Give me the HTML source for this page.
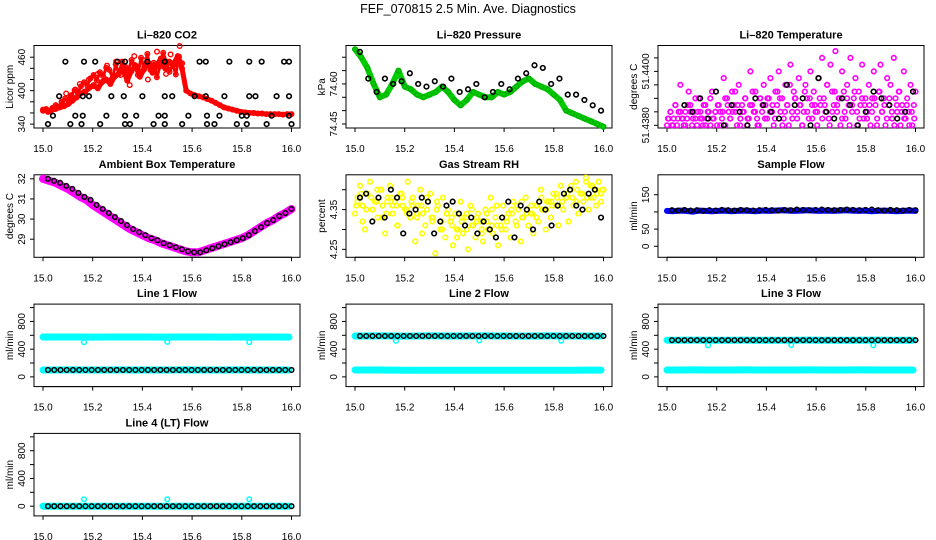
<!DOCTYPE html>
<html><head><meta charset="utf-8">
<style>
html,body{margin:0;padding:0;background:#fff;}
svg{display:block;font-family:"Liberation Sans",Arial,sans-serif;}
</style></head>
<body>
<svg id="chart" width="936" height="540" viewBox="0 0 936 540" xmlns="http://www.w3.org/2000/svg">
<rect width="936" height="540" fill="#fff"/>
<text x="468" y="13" text-anchor="middle" font-size="12.5">FEF_070815  2.5 Min. Ave. Diagnostics</text>
</svg>
<script>
// ---------------- data ----------------
const xTicks = [15.0, 15.2, 15.4, 15.6, 15.8, 16.0];
const xTickLabels = ["15.0", "15.2", "15.4", "15.6", "15.8", "16.0"];

// CO2
const co2Red = [366,364,365,367,370,372,376,382,388,395,398,405,410,404,415,420,412,425,430,440,418,435,445,425,438,450,432,445,458,440,452,448,462,440,400,395,392,390,388,385,382,378,374,370,368,366,364,362,361,360,360,359,359,358,358,358,358,357,358,358];
const co2Red2 = [362,368,372,380,395,390,402,412,398,420,408,430,416,445,420,452,428,438,410,462,435,455,420,440,470,445,430,465,448,480];
const co2Red3 = [364,367,363,369,374,371,379,386,383,392,401,396,408,415,409,422,428,418,433,426,441,437,423,447,431,452,443,436,455,446,428,459,441,466,437,450,424,444,468,452,434,447,429,461,449];
const co2RefX = [15.09,15.165,15.21,15.30,15.33,15.42,15.49,15.63,15.655,15.75,15.83,15.88,15.97,15.99,
  15.065,15.16,15.185,15.275,15.325,15.40,15.49,15.52,15.61,15.655,15.73,15.83,15.855,15.94,15.99,
  15.04,15.13,15.16,15.255,15.33,15.375,15.465,15.49,15.585,15.66,15.71,15.80,15.82,15.92,15.99,
  15.02,15.11,15.155,15.23,15.33,15.35,15.445,15.49,15.56,15.66,15.69,15.78,15.82,15.90,16.0];
const co2RefY = [452,452,452,452,452,452,452,452,452,452,452,452,452,452,
  390,390,390,390,390,390,390,390,390,390,390,390,390,390,390,
  355,355,355,355,355,355,355,355,355,355,355,355,355,355,355,
  340,340,340,340,340,340,340,340,340,340,340,340,340,340,340];

// Pressure
const presGreen = [74.73,74.70,74.66,74.60,74.55,74.56,74.60,74.65,74.59,74.58,74.56,74.55,74.56,74.57,74.59,74.57,74.54,74.52,74.54,74.57,74.56,74.55,74.55,74.57,74.56,74.57,74.59,74.61,74.62,74.60,74.59,74.58,74.56,74.54,74.50,74.49,74.48,74.47,74.46,74.45,74.44];
const presRef = [74.72,74.62,74.57,74.62,74.60,74.61,74.64,74.60,74.59,74.61,74.59,74.62,74.57,74.58,74.60,74.55,74.57,74.60,74.58,74.62,74.64,74.67,74.66,74.60,74.62,74.56,74.56,74.54,74.52,74.50];

// Li-820 temperature
const tempMag = [
51.43800,51.43825,51.43850,51.43800,51.43825,51.43875,51.43800,51.43850,51.43950,51.43825,51.43800,51.43850,51.43825,51.43925,51.43875,51.43800,51.43850,51.43825,51.43800,51.43900,51.43850,51.43825,51.43875,51.43800,51.43825,51.43850,51.43800,51.43925,51.43825,51.43850,
51.43800,51.43875,51.43850,51.43825,51.43975,51.43800,51.43900,51.43850,51.43825,51.43925,51.43875,51.43850,51.43800,51.43950,51.43825,51.43875,51.43850,51.43900,51.43800,51.43825,51.44000,51.43875,51.43850,51.43925,51.43825,51.43800,51.43900,51.43850,51.43950,51.43875,
51.43825,51.43900,51.43975,51.43850,51.43800,51.43925,51.43875,51.44000,51.43850,51.43900,51.43825,51.43950,51.43875,51.43800,51.44025,51.43850,51.43925,51.43900,51.43825,51.43975,51.43875,51.43800,51.43850,51.43950,51.43900,51.43825,51.44000,51.43875,51.43925,51.43850,
51.43800,51.43975,51.43875,51.44050,51.43900,51.43850,51.43950,51.43825,51.44025,51.43925,51.43875,51.44075,51.43850,51.43900,51.43800,51.44000,51.43925,51.43825,51.43950,51.43875,51.44050,51.43850,51.43900,51.43975,51.43800,51.43925,51.43875,51.44025,51.43825,51.43900,
51.43850,51.43950,51.43800,51.43900,51.44000,51.43875,51.43825,51.43925,51.44025,51.43850,51.43900,51.43800,51.43975,51.43875,51.43950,51.43825,51.44050,51.43900,51.43850,51.43925,51.43800,51.43875,51.44000,51.43825,51.43900,51.43850,51.43950,51.43800,51.43875,51.43925];
const tempMag2 = [
51.43825,51.43850,51.43800,51.43875,51.43825,51.43850,51.43825,51.43800,51.43875,51.43850,51.43825,51.43900,51.43850,51.43825,51.43800,51.43875,51.43850,51.43900,51.43825,51.43850,
51.43875,51.43800,51.43850,51.43900,51.43875,51.43825,51.43850,51.43925,51.43875,51.43800,51.43850,51.43900,51.43825,51.43875,51.43925,51.43850,51.43800,51.43900,51.43875,51.43825,
51.43900,51.43850,51.43875,51.43825,51.43925,51.43900,51.43800,51.43850,51.43875,51.43950,51.43825,51.43900,51.43850,51.43875,51.43800,51.43925,51.43850,51.43900,51.43825,51.43875,
51.43850,51.43900,51.43825,51.43875,51.43950,51.43800,51.43850,51.43925,51.43875,51.43900,51.43825,51.43850,51.43900,51.43800,51.43875,51.43925,51.43850,51.43825,51.43900,51.43875,
51.43825,51.43875,51.43850,51.43900,51.43800,51.43925,51.43850,51.43875,51.43825,51.43900,51.43850,51.43800,51.43875,51.43925,51.43850,51.43825,51.43875,51.43800,51.43850,51.43825];
const tempRef = [51.43875,51.43850,51.43900,51.43825,51.43925,51.43800,51.43875,51.43850,51.43800,51.43900,51.43875,51.43850,51.43825,51.43950,51.43875,51.43900,51.43800,51.43975,51.43850,51.43825,51.43900,51.43875,51.43800,51.43850,51.43925,51.43900,51.43875,51.43825,51.43850,51.43925];

// Ambient box temperature
const ambMag = [32.0,31.9,31.8,31.65,31.5,31.3,31.1,30.95,30.7,30.5,30.3,30.1,29.9,29.7,29.5,29.35,29.2,29.05,28.95,28.8,28.7,28.6,28.5,28.4,28.35,28.35,28.45,28.55,28.65,28.75,28.85,28.95,29.05,29.2,29.4,29.6,29.8,29.95,30.15,30.3,30.5];

// Gas stream RH
const rhYellow = [4.34,4.38,4.41,4.36,4.30,4.39,4.42,4.35,4.37,4.33,4.40,4.36,4.29,4.38,4.41,4.34,4.37,4.31,4.39,4.36,
4.35,4.42,4.33,4.38,4.27,4.36,4.40,4.34,4.31,4.37,4.39,4.33,4.24,4.36,4.30,4.38,4.28,4.35,4.32,4.26,
4.34,4.30,4.37,4.29,4.33,4.25,4.36,4.31,4.28,4.34,4.32,4.27,4.35,4.30,4.38,4.29,4.33,4.26,4.31,4.36,
4.30,4.34,4.28,4.37,4.32,4.35,4.27,4.33,4.38,4.31,4.34,4.29,4.36,4.32,4.40,4.35,4.30,4.37,4.33,4.39,
4.36,4.31,4.41,4.35,4.38,4.32,4.40,4.36,4.42,4.34,4.39,4.37,4.43,4.35,4.41,4.38,4.36,4.42,4.39,4.40];
const rhYellow2 = [4.37,4.32,4.39,4.35,4.40,4.33,4.37,4.36,4.31,4.38,4.34,4.36,4.33,4.29,4.35,4.32,4.37,4.30,4.34,4.31,4.28,4.33,4.30,4.35,4.32,4.29,4.34,4.31,4.36,4.30,4.33,4.35,4.31,4.37,4.34,4.36,4.33,4.38,4.35,4.37,4.39,4.36,4.38,4.41,4.37,4.39,4.42,4.38,4.40,4.37];
const rhYellow3 = [4.36,4.39,4.35,4.38,4.37,4.40,4.34,4.38,4.36,4.39,4.35,4.37,4.34,4.36,4.38,4.33,4.35,4.32,4.34,4.33,4.30,4.32,4.34,4.31,4.33,4.30,4.32,4.35,4.31,4.33,4.32,4.34,4.36,4.33,4.35,4.34,4.36,4.35,4.37,4.36,4.38,4.37,4.39,4.38,4.40,4.39,4.38,4.41,4.39,4.40];
const rhRef = [4.38,4.39,4.32,4.38,4.33,4.40,4.38,4.29,4.34,4.35,4.38,4.37,4.29,4.32,4.36,4.37,4.34,4.31,4.33,4.29,4.32,4.30,4.28,4.33,4.37,4.28,4.36,4.35,4.30,4.37,4.35,4.31,4.36,4.39,4.40,4.36,4.35,4.39,4.40,4.33];

// Sample flow
const sampleBlue = [103,102,104,103,101,104,103,102,103,104,102,103,104,103,102,104,103,104,105,104,103,104,105,104,103,104,103,104,105,104,103,104,102,103,104,103,102,103,104,103];
const sampleRef = [105,104,106,104,105,103,105,104,106,105,104,106,105,104,105,106,105,104,106,105,107,106,105,106,107,106,105,106,107,106,105,106,107,105,104,106,105,104,106,105];

// Line flows
const dipTimes = [15.165, 15.5, 15.83];
const l1High = [575,575,576,575,574,575,576,575,575,574,575,576,575,575,574,575,576,575,575,574];
const l1Low = [100,100,101,100,100,100,101,100,100,100,100,101,100,100,100,101,100,100,100,100];
const l1Ref = [100,100,100,100,100,100,100,100,100,100,100,100,100,100,100,100,100,100,100,100,100,100,100,100,100,100,100,100,100,100,100,100,100,100,100,100,100,100,100,100];
const l1Dips = [500,505,500];
const l2High = [590,590,591,590,589,590,591,590,590,592,591,590,590,589,590,591,590,590,589,590];
const l2Low = [100,100,99,98,97,96,96,95,96,96,95,96,96,97,97,96,96,97,98,98];
const l2Ref = [590,590,590,590,590,590,590,590,590,590,590,590,590,590,590,590,590,590,590,590,590,590,590,590,590,590,590,590,590,590,590,590,590,590,590,590,590,590,590,590];
const l2Dips = [520,525,520];
const l3High = [530,530,531,530,529,530,531,530,530,529,530,531,530,530,529,530,531,530,530,529];
const l3Low = [100,100,101,100,100,100,101,100,100,100,100,101,100,100,100,101,100,100,100,100];
const l3Ref = [530,530,530,530,530,530,530,530,530,530,530,530,530,530,530,530,530,530,530,530,530,530,530,530,530,530,530,530,530,530,530,530,530,530,530,530,530,530,530,530];
const l3Dips = [455,460,455];
const l4Base = [0,0,0,0,0,0,0,0,0,0,0,0,0,0,0,0,0,0,0,0];
const l4Ref = [0,0,0,0,0,0,0,0,0,0,0,0,0,0,0,0,0,0,0,0,0,0,0,0,0,0,0,0,0,0,0,0,0,0,0,0,0,0,0,0];
const l4Spikes = [100,100,100];

// ---------------- drawing ----------------
const svg = document.getElementById('chart');
const NS = 'http://www.w3.org/2000/svg';
function mk(tag, attrs, parent) {
  const e = document.createElementNS(NS, tag);
  for (const k in attrs) e.setAttribute(k, attrs[k]);
  (parent || svg).appendChild(e);
  return e;
}
function grid(n, a, b) { const r = []; for (let i = 0; i < n; i++) r.push(a + (b - a) * i / (n - 1)); return r; }

function makePanel(col, row, title, ydom, ticks, labels, ylab, name) {
  const p = { L: 34 + 312 * col, T: 45.5 + 129.3 * row, W: 266, H: 82.5, d: ydom };
  p.x = t => p.L + 9 + (t - 15) * 248.5;
  p.y = v => p.T + (ydom[1] - v) / (ydom[1] - ydom[0]) * p.H;
  const g = mk('g', {});
  
  
  p.g = g;
  const t = mk('text', { x: p.L + p.W / 2, y: p.T - 7, 'text-anchor': 'middle', 'font-size': 11, 'font-weight': 'bold' }, g);
  t.textContent = title;
  
  
  const box = mk('rect', { x: p.L, y: p.T, width: p.W, height: p.H, fill: 'none', stroke: '#000', 'stroke-width': 1 }, g);
  
  
  const xa = mk('g', {}, g);
  
  
  const yb = p.T + p.H;
  mk('line', { x1: p.x(xTicks[0]), x2: p.x(xTicks[xTicks.length - 1]), y1: yb, y2: yb, stroke: '#000' }, xa);
  xTicks.forEach((v, i) => {
    mk('line', { x1: p.x(v), x2: p.x(v), y1: yb, y2: yb + 4, stroke: '#000' }, xa);
    const tl = mk('text', { x: p.x(v), y: yb + 24, 'text-anchor': 'middle', 'font-size': 10 }, xa);
    tl.textContent = xTickLabels[i];
    
    
  });
  const ya = mk('g', {}, g);
  
  
  mk('line', { x1: p.L, x2: p.L, y1: p.y(ticks[0]), y2: p.y(ticks[ticks.length - 1]), stroke: '#000' }, ya);
  ticks.forEach((v, i) => {
    const yy = p.y(v);
    mk('line', { x1: p.L - 4, x2: p.L, y1: yy, y2: yy, stroke: '#000' }, ya);
    if (labels[i]) {
      const tl = mk('text', { x: 0, y: 0, 'text-anchor': 'middle', 'font-size': 10, transform: `translate(${p.L - 9},${yy}) rotate(-90)` }, ya);
      tl.textContent = labels[i];
      
      
    }
  });
  const yt = mk('text', { x: 0, y: 0, 'text-anchor': 'middle', 'font-size': 10, transform: `translate(${p.L - 21},${p.T + p.H / 2}) rotate(-90)` }, g);
  yt.textContent = ylab;
  
  
  p.plot = mk('g', {}, g);
  return p;
}
function pts(p, ts, vs, color, sw, nm) {
  const g = mk('g', { fill: 'none', stroke: color, 'stroke-width': sw }, p.plot);
  
  
  vs.forEach((v, i) => {
    const c = mk('circle', { cx: p.x(ts[i]), cy: p.y(v), r: 2.3 }, g);
    
    
  });
}
function band(p, ts, vs, color, w, nm) {
  const d = vs.map((v, i) => (i ? 'L' : 'M') + p.x(ts[i]).toFixed(1) + ' ' + p.y(v).toFixed(1)).join('');
  const e = mk('path', { d: d, fill: 'none', stroke: color, 'stroke-width': w, 'stroke-linejoin': 'round', 'stroke-linecap': 'round' }, p.plot);
  
  
}

const flowTicks = [0, 200, 400, 600, 800, 1000];
const flowLabels = ["0", "", "400", "", "800", ""];

// Panel 1: CO2
let p = makePanel(0, 0, 'Li\u2013820 CO2', [333, 481], [340, 360, 380, 400, 420, 440, 460], ["340", "", "", "400", "", "", "460"], 'Licor ppm', 'co2');
band(p, grid(co2Red.length, 15, 16), co2Red, '#f00', 5, 'co2-series-line');
band(p, grid(co2Red3.length, 15.0, 15.56), co2Red3, '#f00', 3, 'co2-series-line-extra');
pts(p, grid(co2Red.length, 15, 16), co2Red, '#f00', 1.4, 'co2-series');
pts(p, grid(co2Red2.length, 15.02, 15.55), co2Red2, '#f00', 1.4, 'co2-series-extra');
pts(p, grid(co2Red3.length, 15.0, 15.56), co2Red3, '#f00', 1.4, 'co2-series-extra2');
pts(p, co2RefX, co2RefY, '#000', 1.6, 'co2-reference');

// Panel 2: Pressure
p = makePanel(1, 0, 'Li\u2013820 Pressure', [74.435, 74.744], [74.45, 74.50, 74.55, 74.60, 74.65, 74.70], ["74.45", "", "", "74.60", "", ""], 'kPa', 'pressure');
band(p, grid(presGreen.length, 15, 16), presGreen, '#0c0', 6, 'pressure-series-band');
pts(p, grid(presGreen.length, 15, 16), presGreen, '#0a0', 1.2, 'pressure-series');
pts(p, grid(presRef.length, 15.02, 15.99), presRef, '#000', 1.6, 'pressure-reference');

// Panel 3: Li-820 Temperature
p = makePanel(2, 0, 'Li\u2013820 Temperature', [51.4379, 51.44096], [51.4380, 51.4385, 51.4390, 51.4395, 51.4400, 51.4405], ["51.4380", "", "", "", "51.4400", ""], 'degrees C', 'li820-temp');
pts(p, grid(tempMag.length, 15, 16), tempMag, '#f0f', 1.6, 'li820-temp-series');
pts(p, grid(tempMag2.length, 15.004, 15.995), tempMag2, '#f0f', 1.6, 'li820-temp-series-extra');
pts(p, grid(tempRef.length, 15.07, 15.99), tempRef, '#000', 1.6, 'li820-temp-reference');

// Panel 4: Ambient
p = makePanel(0, 1, 'Ambient Box Temperature', [28.1, 32.2], [29, 30, 31, 32], ["29", "30", "31", "32"], 'degrees C', 'ambient');
band(p, grid(ambMag.length, 15, 16), ambMag, '#f0f', 8, 'ambient-series-band');
pts(p, grid(ambMag.length, 15.02, 16), ambMag, '#000', 1.5, 'ambient-reference');

// Panel 5: RH
p = makePanel(1, 1, 'Gas Stream RH', [4.23, 4.4375], [4.25, 4.30, 4.35, 4.40], ["4.25", "", "4.35", ""], 'percent', 'rh');
pts(p, grid(rhYellow.length, 15, 16), rhYellow, '#ff0', 1.6, 'rh-series');
pts(p, grid(rhYellow2.length, 15.01, 15.99), rhYellow2, '#ff0', 1.6, 'rh-series-extra');
pts(p, grid(rhYellow3.length, 15.005, 15.995), rhYellow3, '#ff0', 1.6, 'rh-series-extra2');
pts(p, grid(rhRef.length, 15.02, 15.99), rhRef, '#000', 1.6, 'rh-reference');

// Panel 6: Sample flow
p = makePanel(2, 1, 'Sample Flow', [-32, 208], [0, 50, 100, 150], ["0", "50", "", "150"], 'ml/min', 'sample-flow');
band(p, grid(sampleBlue.length, 15, 16), sampleBlue, '#00f', 6, 'sample-flow-series');
pts(p, grid(sampleRef.length, 15.02, 16), sampleRef, '#000', 1.5, 'sample-flow-reference');

// Line flows
function flowPanel(col, row, title, name, high, low, ref, dips) {
  const q = makePanel(col, row, title, [-140, 1050], flowTicks, flowLabels, 'ml/min', name);
  if (high) band(q, grid(high.length, 15, 15.99), high, '#0ff', 7, name + '-high-band');
  band(q, grid(low.length, 15, 15.99), low, '#0ff', 7, name + '-low-band');
  pts(q, dipTimes, dips, '#0ff', 1.5, name + '-outliers');
  pts(q, grid(ref.length, 15.02, 16), ref, '#000', 1.5, name + '-reference');
}
flowPanel(0, 2, 'Line 1 Flow', 'line1-flow', l1High, l1Low, l1Ref, l1Dips);
flowPanel(1, 2, 'Line 2 Flow', 'line2-flow', l2High, l2Low, l2Ref, l2Dips);
flowPanel(2, 2, 'Line 3 Flow', 'line3-flow', l3High, l3Low, l3Ref, l3Dips);
flowPanel(0, 3, 'Line 4 (LT) Flow', 'line4-flow', null, l4Base, l4Ref, l4Spikes);
</script>
</body></html>
